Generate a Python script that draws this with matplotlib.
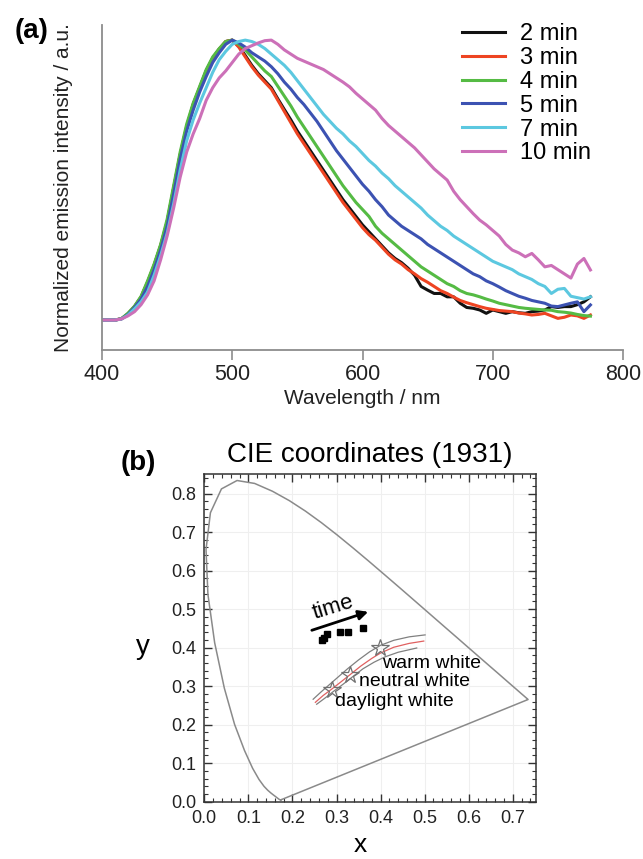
import numpy as np
import matplotlib
matplotlib.use('Agg')
import matplotlib.pyplot as plt
from matplotlib.ticker import MultipleLocator

plt.rcParams['font.family'] = ['Liberation Sans', 'DejaVu Sans']

### (a) Espectros de emision normalizados
longitud_onda = np.arange(400, 780, 5)  # 400 ... 775 nm

esp_2min = [0, 0, 0, 0.005, 0.022, 0.048, 0.082, 0.135, 0.195, 0.265,
            0.35, 0.47, 0.59, 0.69, 0.77, 0.83, 0.89, 0.935, 0.968, 0.995,
            1.0, 0.978, 0.945, 0.91, 0.88, 0.855, 0.83, 0.79, 0.752, 0.715,
            0.675, 0.64, 0.605, 0.57, 0.535, 0.5, 0.465, 0.43, 0.4, 0.37,
            0.34, 0.315, 0.29, 0.265, 0.24, 0.22, 0.205, 0.185, 0.16, 0.12,
            0.107, 0.095, 0.095, 0.083, 0.083, 0.06, 0.045, 0.042, 0.036, 0.024,
            0.036, 0.03, 0.024, 0.03, 0.026, 0.024, 0.03, 0.032, 0.036, 0.048,
            0.045, 0.048, 0.048, 0.055, 0.065, 0.083]
esp_3min = [0, 0, 0, 0.005, 0.022, 0.048, 0.082, 0.135, 0.195, 0.265,
            0.35, 0.47, 0.59, 0.69, 0.77, 0.83, 0.89, 0.935, 0.968, 0.995,
            1.0, 0.975, 0.94, 0.905, 0.875, 0.85, 0.825, 0.785, 0.745, 0.705,
            0.665, 0.63, 0.595, 0.56, 0.525, 0.49, 0.455, 0.42, 0.39, 0.36,
            0.33, 0.305, 0.285, 0.26, 0.235, 0.215, 0.2, 0.18, 0.165, 0.148,
            0.135, 0.12, 0.105, 0.095, 0.082, 0.07, 0.062, 0.055, 0.048, 0.042,
            0.038, 0.034, 0.032, 0.03, 0.025, 0.022, 0.018, 0.02, 0.024, 0.015,
            0.006, 0.01, 0.018, 0.015, 0.006, 0.018]
esp_4min = [0, 0, 0, 0.005, 0.025, 0.05, 0.085, 0.14, 0.20, 0.27,
            0.36, 0.48, 0.60, 0.70, 0.775, 0.835, 0.895, 0.94, 0.97, 0.995,
            1.0, 0.985, 0.965, 0.94, 0.915, 0.89, 0.87, 0.835, 0.80, 0.765,
            0.725, 0.69, 0.655, 0.62, 0.585, 0.55, 0.515, 0.48, 0.45, 0.42,
            0.395, 0.37, 0.335, 0.31, 0.29, 0.27, 0.25, 0.23, 0.21, 0.19,
            0.175, 0.16, 0.145, 0.13, 0.12, 0.105, 0.095, 0.09, 0.083, 0.075,
            0.068, 0.06, 0.055, 0.05, 0.045, 0.042, 0.04, 0.038, 0.036, 0.035,
            0.03, 0.028, 0.025, 0.02, 0.016, 0.014]
esp_5min = [0, 0, 0, 0.004, 0.02, 0.045, 0.075, 0.12, 0.18, 0.25,
            0.335, 0.45, 0.575, 0.675, 0.75, 0.815, 0.87, 0.92, 0.955, 0.985,
            1.0, 0.99, 0.975, 0.955, 0.94, 0.925, 0.905, 0.88, 0.85, 0.825,
            0.795, 0.77, 0.74, 0.71, 0.675, 0.64, 0.605, 0.575, 0.545, 0.515,
            0.485, 0.46, 0.43, 0.405, 0.375, 0.355, 0.335, 0.32, 0.305, 0.29,
            0.27, 0.255, 0.24, 0.225, 0.21, 0.195, 0.18, 0.165, 0.155, 0.14,
            0.13, 0.118, 0.105, 0.095, 0.085, 0.078, 0.07, 0.065, 0.06, 0.05,
            0.048, 0.054, 0.06, 0.065, 0.03, 0.054]
esp_7min = [0, 0, 0, 0.004, 0.018, 0.04, 0.065, 0.1, 0.16, 0.23,
            0.31, 0.415, 0.535, 0.64, 0.715, 0.775, 0.83, 0.885, 0.93, 0.96,
            0.985, 0.995, 1.0, 0.995, 0.985, 0.97, 0.95, 0.93, 0.91, 0.885,
            0.855, 0.825, 0.795, 0.765, 0.735, 0.71, 0.685, 0.665, 0.64, 0.62,
            0.595, 0.57, 0.55, 0.525, 0.505, 0.48, 0.46, 0.44, 0.42, 0.4,
            0.375, 0.355, 0.335, 0.32, 0.3, 0.285, 0.27, 0.255, 0.24, 0.225,
            0.21, 0.2, 0.19, 0.18, 0.165, 0.155, 0.145, 0.13, 0.12, 0.095,
            0.11, 0.113, 0.085, 0.08, 0.075, 0.083]
esp_10min = [0, 0, 0, 0.004, 0.015, 0.03, 0.055, 0.09, 0.14, 0.215,
             0.30, 0.40, 0.51, 0.60, 0.665, 0.72, 0.785, 0.83, 0.865, 0.89,
             0.92, 0.95, 0.97, 0.98, 0.99, 0.998, 1.0, 0.985, 0.965, 0.95,
             0.935, 0.925, 0.915, 0.905, 0.895, 0.88, 0.865, 0.85, 0.833, 0.81,
             0.79, 0.77, 0.75, 0.72, 0.695, 0.675, 0.655, 0.635, 0.615, 0.59,
             0.565, 0.54, 0.52, 0.5, 0.46, 0.43, 0.405, 0.38, 0.357, 0.34,
             0.32, 0.3, 0.27, 0.25, 0.24, 0.226, 0.238, 0.215, 0.19, 0.195,
             0.18, 0.165, 0.15, 0.2, 0.22, 0.179]

etiquetas = ['2 min', '3 min', '4 min', '5 min', '7 min', '10 min']
colores = ['#111111', '#ee4422', '#55bb44', '#3c52b2', '#5cc8e0', '#cc70b8']
espectros = [esp_2min, esp_3min, esp_4min, esp_5min, esp_7min, esp_10min]

### (b) Diagrama CIE 1931
locus_x = [0.1741, 0.1733, 0.1714, 0.1689, 0.1644, 0.1566, 0.1510, 0.1440, 0.1355,
           0.1241, 0.1096, 0.0913, 0.0687, 0.0454, 0.0235, 0.0082, 0.0039, 0.0139,
           0.0389, 0.0743, 0.1142, 0.1547, 0.1929, 0.2296, 0.2658, 0.3016, 0.3373,
           0.3731, 0.4087, 0.4441, 0.4788, 0.5125, 0.5448, 0.5752, 0.6029, 0.6270,
           0.6482, 0.6658, 0.6915, 0.7079, 0.7190, 0.7260, 0.7300, 0.7334, 0.7347]
locus_y = [0.0050, 0.0048, 0.0051, 0.0069, 0.0109, 0.0177, 0.0227, 0.0297, 0.0399,
           0.0578, 0.0868, 0.1327, 0.2007, 0.2950, 0.4127, 0.5384, 0.6548, 0.7502,
           0.8120, 0.8338, 0.8262, 0.8059, 0.7816, 0.7543, 0.7243, 0.6923, 0.6589,
           0.6245, 0.5896, 0.5547, 0.5202, 0.4866, 0.4544, 0.4242, 0.3965, 0.3725,
           0.3514, 0.3340, 0.3083, 0.2920, 0.2809, 0.2740, 0.2700, 0.2666, 0.2653]

planck_x = [0.252, 0.270, 0.290, 0.310, 0.331, 0.355, 0.380, 0.400, 0.430, 0.465, 0.498]
planck_y = [0.258, 0.276, 0.293, 0.311, 0.330, 0.352, 0.372, 0.386, 0.401, 0.411, 0.417]
sup_x = [0.247, 0.265, 0.285, 0.305, 0.325, 0.350, 0.375, 0.400, 0.430, 0.465, 0.501]
sup_y = [0.266, 0.285, 0.305, 0.325, 0.345, 0.368, 0.389, 0.406, 0.419, 0.428, 0.433]
inf_x = [0.255, 0.275, 0.295, 0.315, 0.335, 0.360, 0.385, 0.410, 0.440, 0.482]
inf_y = [0.253, 0.270, 0.288, 0.305, 0.323, 0.345, 0.362, 0.376, 0.388, 0.399]

blancos = ['daylight white', 'neutral white', 'warm white']
blancos_x = [0.289, 0.331, 0.399]
blancos_y = [0.290, 0.330, 0.400]

muestras_x = [0.268, 0.271, 0.279, 0.308, 0.327, 0.361]  # 2,3,4,5,7,10 min
muestras_y = [0.420, 0.424, 0.435, 0.441, 0.441, 0.450]

W, H = 643.0, 859.0
def caja(x0, y0, x1, y1):
    return [x0 / W, 1 - y1 / H, (x1 - x0) / W, (y1 - y0) / H]

fig = plt.figure(figsize=(6.43, 8.59), dpi=100)

### Panel (a)
ax = fig.add_axes(caja(102, 25, 623, 350))
for etiqueta, color, esp in zip(etiquetas, colores, espectros):
    ax.plot(longitud_onda, esp, color=color, lw=2.2, label=etiqueta, solid_joinstyle='round')
ax.set_xlim(400, 800)
ax.set_ylim(-0.107, 1.054)
for lado in ['top', 'right']:
    ax.spines[lado].set_visible(False)
for lado in ['left', 'bottom']:
    ax.spines[lado].set_color('#8c8c8c')
    ax.spines[lado].set_linewidth(1.3)
ax.set_yticks([])
ax.set_xticks([400, 500, 600, 700, 800])
ax.tick_params(axis='x', direction='out', length=7, width=1.2, color='#8c8c8c',
               labelsize=15.5, pad=3, labelcolor='#222222')
ax.set_xlabel('Wavelength / nm', fontsize=15, labelpad=3, color='#222222')
ax.set_ylabel('Normalized emission intensity / a.u.', fontsize=15, color='#222222')
ax.yaxis.set_label_coords(-0.056, 0.5)
ax.legend(loc='upper left', bbox_to_anchor=(462 / W, 1 - 23 / H), bbox_transform=fig.transFigure,
          frameon=False, fontsize=17, handlelength=1.8, handletextpad=0.65,
          labelspacing=0.08, borderpad=0, borderaxespad=0)
fig.text(32 / W, 1 - 31 / H, '(a)', fontsize=20, fontweight='bold', ha='center', va='center')

### Panel (b)
bx = fig.add_axes(caja(204.3, 473.5, 535.7, 801.7))
bx.plot(locus_x + [locus_x[0]], locus_y + [locus_y[0]], color='#8a8a8a', lw=1.1,
        solid_joinstyle='round')
bx.plot(sup_x, sup_y, color='#808080', lw=0.9)
bx.plot(planck_x, planck_y, color='#e06060', lw=0.9)
bx.plot(inf_x, inf_y, color='#808080', lw=0.9)
bx.plot(blancos_x, blancos_y, '*', ms=13, mfc='none', mec='#707070', mew=0.9, linestyle='None')
bx.plot(muestras_x, muestras_y, 's', color='k', ms=4.6, linestyle='None')
bx.annotate('', xy=(0.372, 0.493), xytext=(0.244, 0.445),
            arrowprops=dict(arrowstyle='-|>', color='k', lw=2, mutation_scale=14, shrinkA=0, shrinkB=0))
bx.text(0.292, 0.505, 'time', fontsize=16, rotation=17, ha='center', va='center')
bx.text(0.403, 0.360, blancos[2], fontsize=14, va='center')
bx.text(0.350, 0.311, blancos[1], fontsize=14, va='center')
bx.text(0.297, 0.260, blancos[0], fontsize=14, va='center')

bx.set_xlim(0, 0.752)
bx.set_ylim(0, 0.852)
bx.xaxis.set_major_locator(MultipleLocator(0.1))
bx.yaxis.set_major_locator(MultipleLocator(0.1))
bx.xaxis.set_minor_locator(MultipleLocator(0.02))
bx.yaxis.set_minor_locator(MultipleLocator(0.02))
bx.xaxis.set_major_formatter(plt.FormatStrFormatter('%.1f'))
bx.yaxis.set_major_formatter(plt.FormatStrFormatter('%.1f'))
bx.tick_params(which='both', direction='in', top=True, right=True, color='#333333')
bx.tick_params(which='major', length=6, width=1, labelsize=13, pad=6, labelcolor='#222222')
bx.tick_params(which='minor', length=3, width=0.8)
bx.grid(True, which='major', color='#efefef', lw=0.8)
for lado in bx.spines.values():
    lado.set_color('#333333')
    lado.set_linewidth(1.1)

fig.text(370 / W, 1 - 455 / H, 'CIE coordinates (1931)', fontsize=20, ha='center', va='center')
fig.text(138 / W, 1 - 463 / H, '(b)', fontsize=20, fontweight='bold', ha='center', va='center')
fig.text(143 / W, 1 - 647 / H, 'y', fontsize=20, ha='center', va='center')
fig.text(360 / W, 1 - 845 / H, 'x', fontsize=19, ha='center', va='center')

plt.savefig('out.png', dpi=100)
